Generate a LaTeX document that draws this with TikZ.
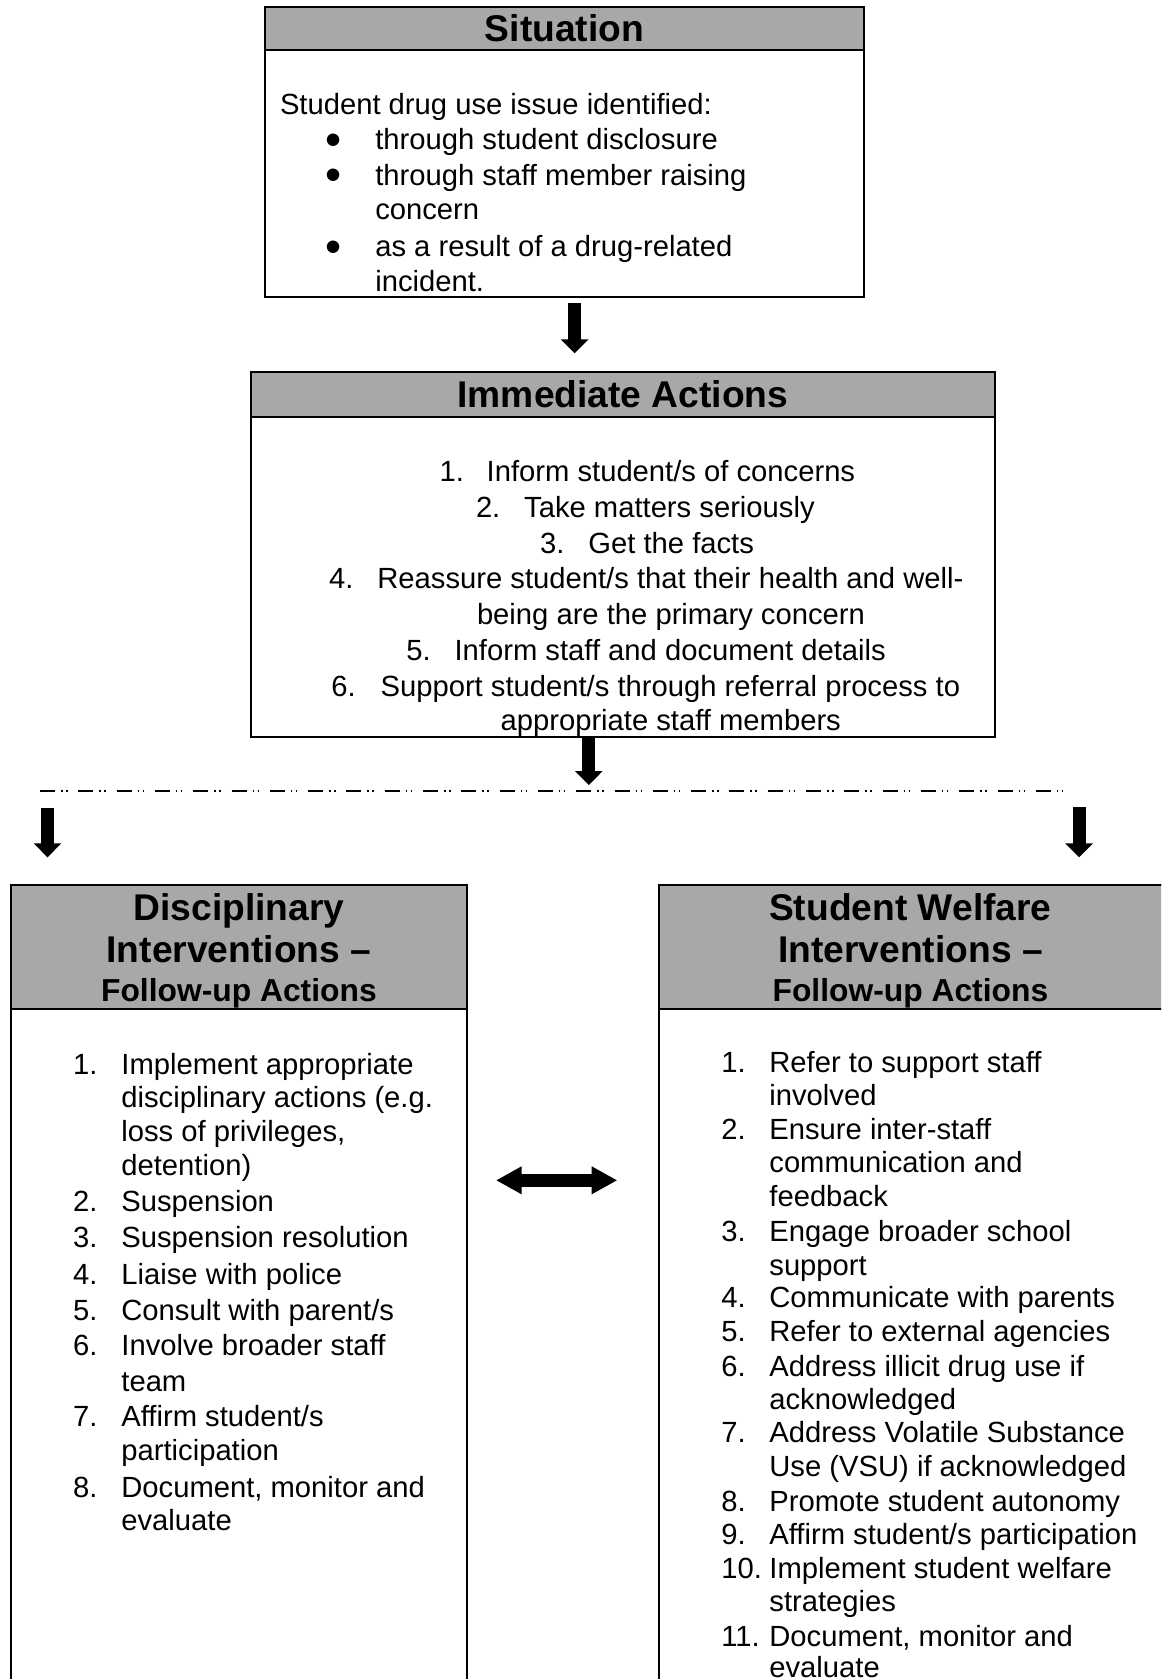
\documentclass[tikz,border=0pt]{standalone}
\usepackage{fontspec}
\setmainfont{Liberation Sans}
\usetikzlibrary{arrows.meta}
\definecolor{hdrgray}{RGB}{168,168,168}
\begin{document}
\begin{tikzpicture}[x=0.5pt,y=-0.5pt,
  box/.style={draw, line width=1pt, anchor=north west, inner sep=0pt, outer sep=0pt},
  hdrbox/.style={box, fill=hdrgray},
  htitle/.style={font=\fontsize{18.6}{21}\selectfont\bfseries, inner sep=0pt, anchor=center, text height=13.3pt, text depth=3.9pt, yshift=-1.6pt},
  hsub/.style={font=\fontsize{15.9}{18}\selectfont\bfseries, inner sep=0pt, anchor=center, text height=11.4pt, text depth=3.3pt, yshift=-1.6pt},
  txt/.style={font=\fontsize{14.6}{17.7}\selectfont, inner sep=0pt, anchor=west, text height=10.45pt, text depth=3.07pt, yshift=-1.6pt},
  bul/.style={font=\fontsize{23}{23}\selectfont, inner sep=0pt, anchor=base, text height=6pt, text depth=0pt},
  blockarrow/.style={line width=6.5pt, -{Triangle[width=13.5pt,length=7pt]}},
  dblarrow/.style={line width=6.3pt, {Triangle[width=13pt,length=12.8pt]}-{Triangle[width=13pt,length=12.8pt]}},
  dashdotline/.style={line width=1pt, dash pattern=on 7.5pt off 3pt on 0.75pt off 1.75pt on 0.75pt off 5.4pt}
]
\clip (0,0) rectangle (1161,1679);
\useasboundingbox (0,0) rectangle (1161,1679);

% ---------- Situation ----------
\node[box, minimum width=299.9pt, minimum height=144.6pt] (sit) at (264.6,7.5) {};
\node[hdrbox, minimum width=299.9pt, minimum height=21.4pt] (sithdr) at (264.6,7.5) {};
\node[htitle] (sitt) at (564.5,28.9) {Situation};
\node[txt] (s0) at (279.6,103.9) {Student drug use issue identified:};
\node[bul] (sb1) at (333.3,155.5) {•};
\node[txt] (s1) at (374.9,139.2) {through student disclosure};
\node[bul] (sb2) at (333.3,190.9) {•};
\node[txt] (s2) at (374.9,174.6) {through staff member raising};
\node[txt] (s2b) at (374.9,208.9) {concern};
\node[bul] (sb3) at (333.3,262.7) {•};
\node[txt] (s3) at (374.9,246.4) {as a result of a drug-related};
\node[txt] (s3b) at (374.9,280.6) {incident.};

% ---------- Immediate Actions ----------
\node[box, minimum width=372.25pt, minimum height=182.6pt] (imm) at (250.6,371.7) {};
\node[hdrbox, minimum width=372.25pt, minimum height=22.5pt] (immhdr) at (250.6,371.7) {};
\node[htitle] (immt) at (622.9,395.2) {Immediate Actions};
\node[txt] (in1) at (439.2,471.3) {1.};
\node[txt] (i1) at (486.3,471.3) {Inform student/s of concerns};
\node[txt] (in2) at (475.6,506.6) {2.};
\node[txt] (i2) at (523.8,506.6) {Take matters seriously};
\node[txt] (in3) at (539.8,543.0) {3.};
\node[txt] (i3) at (588.0,543.0) {Get the facts};
\node[txt] (in4) at (328.8,578.4) {4.};
\node[txt] (i4) at (377.0,578.4) {Reassure student/s that their health and well-};
\node[txt] (i4b) at (476.6,613.7) {being are the primary concern};
\node[txt] (in5) at (405.9,650.2) {5.};
\node[txt] (i5) at (454.2,650.2) {Inform staff and document details};
\node[txt] (in6) at (331.0,685.5) {6.};
\node[txt] (i6) at (380.2,685.5) {Support student/s through referral process to};
\node[txt] (i6b) at (500.2,719.8) {appropriate staff members};

% ---------- Disciplinary ----------
\node[box, minimum width=228.15pt, minimum height=407.75pt] (dis) at (10.7,884.5) {};
\node[hdrbox, minimum width=228.15pt, minimum height=62.25pt] (dishdr) at (10.7,884.5) {};
\node[htitle] (dist1) at (238.9,908.3) {Disciplinary};
\node[htitle] (dist2) at (238.9,950.1) {Interventions –};
\node[hsub] (dist3) at (238.9,989.7) {Follow-up Actions};
\node[txt] (dn1) at (72.8,1063.6) {1.};
\node[txt] (d1) at (121.0,1063.6) {Implement appropriate};
\node[txt] (d1b) at (121.0,1096.8) {disciplinary actions (e.g.};
\node[txt] (d1c) at (121.0,1131.1) {loss of privileges,};
\node[txt] (d1d) at (121.0,1165.4) {detention)};
\node[txt] (dn2) at (72.8,1200.8) {2.};
\node[txt] (d2) at (121.0,1200.8) {Suspension};
\node[txt] (dn3) at (72.8,1237.2) {3.};
\node[txt] (d3) at (121.0,1237.2) {Suspension resolution};
\node[txt] (dn4) at (72.8,1273.6) {4.};
\node[txt] (d4) at (121.0,1273.6) {Liaise with police};
\node[txt] (dn5) at (72.8,1310.0) {5.};
\node[txt] (d5) at (121.0,1310.0) {Consult with parent/s};
\node[txt] (dn6) at (72.8,1345.3) {6.};
\node[txt] (d6) at (121.0,1345.3) {Involve broader staff};
\node[txt] (d6b) at (121.0,1380.7) {team};
\node[txt] (dn7) at (72.8,1416.0) {7.};
\node[txt] (d7) at (121.0,1416.0) {Affirm student/s};
\node[txt] (d7b) at (121.0,1450.3) {participation};
\node[txt] (dn8) at (72.8,1486.7) {8.};
\node[txt] (d8) at (121.0,1486.7) {Document, monitor and};
\node[txt] (d8b) at (121.0,1519.9) {evaluate};

% ---------- Student Welfare ----------
\node[box, minimum width=252.15pt, minimum height=407.75pt] (wel) at (658.7,884.5) {};
\node[hdrbox, minimum width=252.15pt, minimum height=62.25pt] (welhdr) at (658.7,884.5) {};
\node[htitle] (welt1) at (910.4,908.3) {Student Welfare};
\node[htitle] (welt2) at (910.4,950.1) {Interventions –};
\node[hsub] (welt3) at (910.4,989.7) {Follow-up Actions};
\node[txt] (wn1) at (720.9,1061.5) {1.};
\node[txt] (w1) at (769.0,1061.5) {Refer to support staff};
\node[txt] (w1b) at (769.0,1094.7) {involved};
\node[txt] (wn2) at (720.9,1128.9) {2.};
\node[txt] (w2) at (769.0,1128.9) {Ensure inter-staff};
\node[txt] (w2b) at (769.0,1162.1) {communication and};
\node[txt] (w2c) at (769.0,1196.4) {feedback};
\node[txt] (wn3) at (720.9,1230.7) {3.};
\node[txt] (w3) at (769.0,1230.7) {Engage broader school};
\node[txt] (w3b) at (769.0,1265.0) {support};
\node[txt] (wn4) at (720.9,1297.1) {4.};
\node[txt] (w4) at (769.0,1297.1) {Communicate with parents};
\node[txt] (wn5) at (720.9,1331.4) {5.};
\node[txt] (w5) at (769.0,1331.4) {Refer to external agencies};
\node[txt] (wn6) at (720.9,1365.7) {6.};
\node[txt] (w6) at (769.0,1365.7) {Address illicit drug use if};
\node[txt] (w6b) at (769.0,1398.9) {acknowledged};
\node[txt] (wn7) at (720.9,1432.1) {7.};
\node[txt] (w7) at (769.0,1432.1) {Address Volatile Substance};
\node[txt] (w7b) at (769.0,1466.3) {Use (VSU) if acknowledged};
\node[txt] (wn8) at (720.9,1500.6) {8.};
\node[txt] (w8) at (769.0,1500.6) {Promote student autonomy};
\node[txt] (wn9) at (720.9,1533.8) {9.};
\node[txt] (w9) at (769.0,1533.8) {Affirm student/s participation};
\node[txt] (wn10) at (720.9,1568.1) {10.};
\node[txt] (w10) at (769.0,1568.1) {Implement student welfare};
\node[txt] (w10b) at (769.0,1601.3) {strategies};
\node[txt] (wn11) at (720.9,1635.6) {11.};
\node[txt] (w11) at (769.0,1635.6) {Document, monitor and};
\node[txt] (w11b) at (769.0,1666.5) {evaluate};

% ---------- connectors ----------
\coordinate (a1s) at (574.7,303.3);
\coordinate (a1e) at (574.7,353.3);
\coordinate (a2s) at (588.8,737.5);
\coordinate (a2e) at (588.8,785);
\coordinate (dl) at (40,790.7);
\coordinate (dr) at (1065.7,790.7);
\coordinate (a3s) at (47.5,807.7);
\coordinate (a3e) at (47.5,857.3);
\coordinate (a4s) at (1079,807.3);
\coordinate (a4e) at (1079,857.3);
\coordinate (a5l) at (496,1180.3);
\coordinate (a5r) at (617.3,1180.3);

\draw[blockarrow] (a1s) -- (a1e);
\draw[blockarrow] (a2s) -- (a2e);
\draw[dashdotline] (dl) -- (dr);
\draw[blockarrow] (a3s) -- (a3e);
\draw[blockarrow] (a4s) -- (a4e);
\draw[dblarrow] (a5l) -- (a5r);
\end{tikzpicture}
\end{document}
